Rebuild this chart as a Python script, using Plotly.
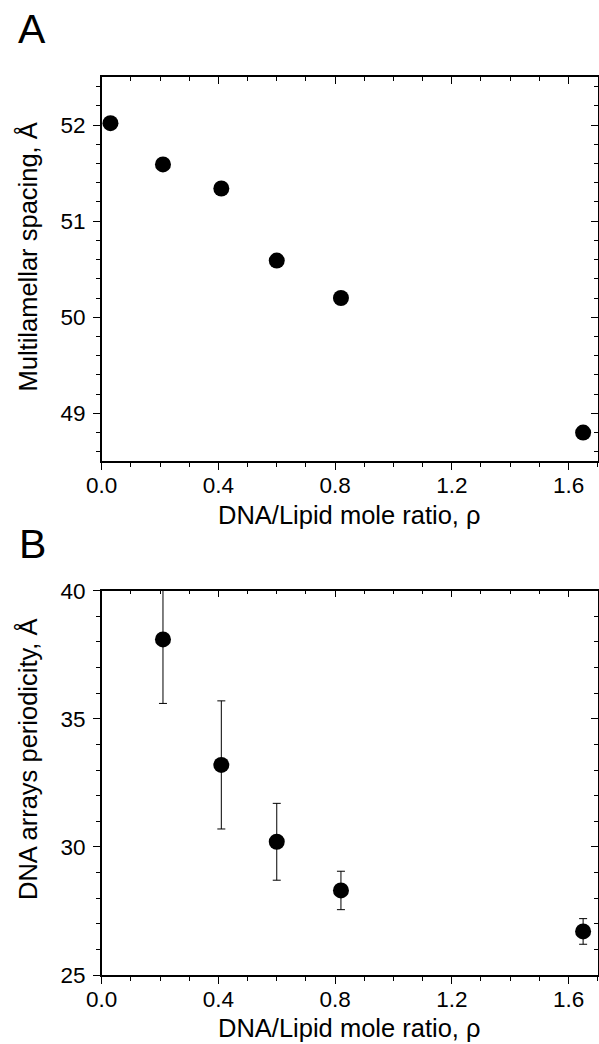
import plotly.graph_objects as go

# ---------------- data ----------------
rho_A = [0.03, 0.21, 0.41, 0.60, 0.82, 1.65]
spacing_A = [52.02, 51.59, 51.34, 50.59, 50.20, 48.80]

rho_B = [0.21, 0.41, 0.60, 0.82, 1.65]
period_B = [38.1, 33.2, 30.2, 28.3, 26.7]
period_err_B = [2.5, 2.5, 1.5, 0.75, 0.5]

x_title = "DNA/Lipid mole ratio, ρ"
yA_title = "Multilamellar spacing, Å"
yB_title = "DNA arrays periodicity, Å"
panel_labels = ["A", "B"]

# ---------------- layout geometry ----------------
W, H = 599, 1044
FONT = "Liberation Sans, Arial, sans-serif"
FS = 22.5
FS_T = 25.5

def px_x(p):
    return p / W

def px_y(p):
    return 1 - p / H

x_dom = [px_x(101.7), px_x(597.7)]
yA_dom = [px_y(461.4), px_y(77.0)]
yB_dom = [px_y(975.0), px_y(590.7)]

xrange_ = [0, 1.7]
yA_range = [48.5, 52.5]
yB_range = [25, 40]

fig = go.Figure()

fig.add_trace(go.Scatter(
    x=rho_A, y=spacing_A, mode="markers", xaxis="x", yaxis="y",
    marker=dict(size=16, color="black", line=dict(width=0)),
    showlegend=False, cliponaxis=False))

fig.add_trace(go.Scatter(
    x=rho_B, y=period_B, mode="markers", xaxis="x2", yaxis="y2",
    marker=dict(size=16, color="black", line=dict(width=0)),
    error_y=dict(type="data", array=period_err_B, visible=True,
                 color="black", thickness=1, width=4),
    showlegend=False, cliponaxis=True))

# invisible traces for mirrored (inside-tick) axes
for xa, ya in [("x3", "y3"), ("x4", "y4")]:
    fig.add_trace(go.Scatter(x=[], y=[], xaxis=xa, yaxis=ya,
                             showlegend=False, hoverinfo="skip"))

LW = 1.5
TW = 1.2
tickfont = dict(family=FONT, size=FS, color="black")

def main_x(dom, anchor):
    return dict(domain=dom, range=xrange_, anchor=anchor, automargin=False,
                showline=True, linecolor="black", linewidth=LW,
                ticks="outside", ticklen=7, tickwidth=TW, tickcolor="black",
                tick0=0, dtick=0.4, tickformat=".1f", ticklabelstandoff=-4,
                minor=dict(ticks="outside", ticklen=4, tickwidth=TW,
                           tickcolor="black", dtick=0.1, tick0=0),
                showgrid=False, zeroline=False, tickfont=tickfont)

def main_y(dom, rng, dtick, mdtick, anchor):
    return dict(domain=dom, range=rng, anchor=anchor, automargin=False,
                showline=True, linecolor="black", linewidth=LW,
                ticks="outside", ticklen=7, tickwidth=TW, tickcolor="black",
                tick0=0, dtick=dtick, ticklabelstandoff=3,
                minor=dict(ticks="outside", ticklen=4, tickwidth=TW,
                           tickcolor="black", dtick=mdtick, tick0=0),
                showgrid=False, zeroline=False, tickfont=tickfont)

def mirror_x(over, anchor):
    return dict(overlaying=over, anchor=anchor, side="top", range=xrange_,
                automargin=False,
                showline=True, linecolor="black", linewidth=LW,
                ticks="inside", ticklen=7, tickwidth=TW, tickcolor="black",
                tick0=0, dtick=0.4, showticklabels=False,
                minor=dict(ticks="inside", ticklen=4, tickwidth=TW,
                           tickcolor="black", dtick=0.1, tick0=0),
                showgrid=False, zeroline=False)

def mirror_y(over, rng, dtick, mdtick, anchor):
    return dict(overlaying=over, anchor=anchor, side="right", range=rng,
                automargin=False,
                showline=True, linecolor="black", linewidth=LW,
                ticks="inside", ticklen=7, tickwidth=TW, tickcolor="black",
                tick0=0, dtick=dtick, showticklabels=False,
                minor=dict(ticks="inside", ticklen=4, tickwidth=TW,
                           tickcolor="black", dtick=mdtick, tick0=0),
                showgrid=False, zeroline=False)

fig.update_layout(
    width=W, height=H,
    margin=dict(l=0, r=0, t=0, b=0, pad=0, autoexpand=False),
    paper_bgcolor="white", plot_bgcolor="white",
    font=dict(family=FONT, size=FS, color="black"),
    xaxis=main_x(x_dom, "y"),
    yaxis=main_y(yA_dom, yA_range, 1, 0.2, "x"),
    xaxis2=main_x(x_dom, "y2"),
    yaxis2=main_y(yB_dom, yB_range, 5, 1, "x2"),
    xaxis3=mirror_x("x", "y"),
    yaxis3=mirror_y("y", yA_range, 1, 0.2, "x"),
    xaxis4=mirror_x("x2", "y2"),
    yaxis4=mirror_y("y2", yB_range, 5, 1, "x2"),
)

ann = []
# x axis titles (anchored at the bottom of their text box)
for ybot in [530.5, 1044.0]:
    ann.append(dict(text=x_title, xref="paper", yref="paper",
                    x=px_x(216.0), y=px_y(ybot),
                    xanchor="left", yanchor="bottom", showarrow=False,
                    font=dict(family=FONT, size=FS_T, color="black")))
# y axis titles
for t, yc in [(yA_title, 257.5), (yB_title, 759.0)]:
    ann.append(dict(text=t, xref="paper", yref="paper",
                    x=px_x(27.0), y=px_y(yc), textangle=-90,
                    xanchor="center", yanchor="middle", showarrow=False,
                    font=dict(family=FONT, size=FS_T, color="black")))
# panel labels
for t, xl, ytop in zip(panel_labels, [15.5, 16.5], [4.5, 518.5]):
    ann.append(dict(text=t, xref="paper", yref="paper",
                    x=px_x(xl), y=px_y(ytop),
                    xanchor="left", yanchor="top", showarrow=False,
                    font=dict(family=FONT, size=41, color="black")))

fig.update_layout(annotations=ann)

fig.write_html("out.html")
